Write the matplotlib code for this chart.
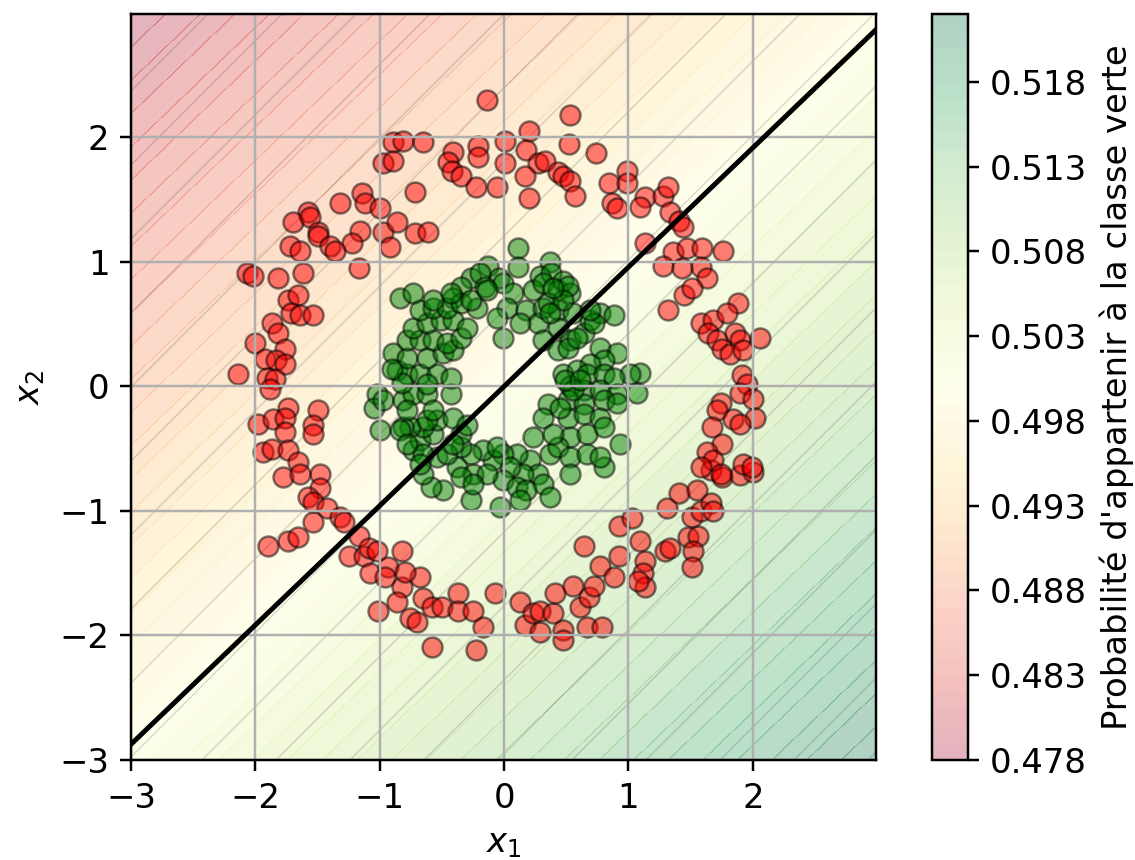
import numpy as np
import matplotlib
matplotlib.use("Agg")
import matplotlib.pyplot as plt

# ---------------- data ----------------
red_points = [
    (-0.14, 2.30), (0.53, 2.18), (0.20, 2.05), (0.52, 1.95), (0.01, 1.97), (0.18, 1.90),
    (0.01, 1.79), (0.27, 1.79), (0.33, 1.81), (0.43, 1.72), (0.47, 1.69), (0.53, 1.65),
    (0.57, 1.53), (0.20, 1.51), (0.17, 1.69), (0.74, 1.87), (0.99, 1.73), (0.84, 1.63),
    (0.99, 1.63), (0.87, 1.47), (0.91, 1.43), (1.13, 1.52), (1.09, 1.44), (1.28, 1.53),
    (1.32, 1.60), (1.33, 1.40), (1.41, 1.33), (1.44, 1.28), (1.13, 1.15), (1.36, 1.08),
    (1.47, 1.11), (1.59, 1.11), (1.76, 1.09), (1.28, 0.97), (1.43, 0.95), (1.58, 0.96),
    (1.63, 0.87),
    (-0.89, 1.96), (-0.81, 1.97), (-0.65, 1.96), (-0.97, 1.79), (-0.89, 1.81), (-0.41, 1.88),
    (-0.45, 1.80), (-0.42, 1.73), (-0.35, 1.69), (-0.21, 1.93), (-0.21, 1.84), (-0.23, 1.60),
    (-0.06, 1.60), (-0.72, 1.56), (-1.14, 1.55), (-1.12, 1.47), (-1.32, 1.47), (-1.00, 1.43),
    (-1.58, 1.40), (-1.70, 1.32), (-1.56, 1.36), (-1.50, 1.24), (-1.50, 1.21), (-1.16, 1.25),
    (-1.22, 1.15), (-0.97, 1.24), (-0.86, 1.32), (-0.72, 1.23), (-0.61, 1.24), (-0.92, 1.12),
    (-1.40, 1.13), (-1.36, 1.09), (-1.72, 1.13), (-1.64, 1.09), (-1.17, 0.95), (-2.07, 0.91),
    (-2.02, 0.89), (-1.82, 0.87), (-1.62, 0.91),
    (-1.74, 0.69), (-1.66, 0.73), (-1.71, 0.59), (-1.64, 0.57), (-1.54, 0.57), (-1.87, 0.51),
    (-1.82, 0.43), (-2.00, 0.35), (-1.76, 0.30), (-1.92, 0.22), (-1.83, 0.21), (-1.76, 0.18),
    (-2.14, 0.10), (-1.91, 0.07), (-1.84, 0.06), (-1.88, -0.02), (-1.74, -0.17), (-1.50, -0.19),
    (-1.98, -0.30), (-1.86, -0.26), (-1.76, -0.25), (-1.76, -0.37), (-1.54, -0.31), (-1.54, -0.38),
    (-1.94, -0.53), (-1.87, -0.50), (-1.74, -0.51), (-1.66, -0.61), (-1.78, -0.73), (-1.48, -0.70),
    (-1.64, -0.70), (-1.48, -0.82), (-1.58, -0.89), (-1.54, -0.93), (-1.42, -0.98), (-1.32, -1.05),
    (-1.29, -1.09), (-1.54, -1.09), (-1.90, -1.28), (-1.74, -1.24), (-1.66, -1.21), (-1.17, -1.20),
    (-1.25, -1.36), (-1.13, -1.36), (-1.09, -1.30), (-1.02, -1.32), (-0.82, -1.32), (-1.08, -1.50),
    (-0.93, -1.45), (-0.96, -1.53), (-0.82, -1.61), (-0.68, -1.53), (-0.80, -1.49), (-1.01, -1.80),
    (-0.86, -1.73), (-0.76, -1.86), (-0.70, -1.89), (-0.65, -1.70), (-0.58, -1.77), (-0.50, -1.77),
    (-0.37, -1.66), (-0.37, -1.80), (-0.25, -1.80), (-0.17, -1.93), (-0.07, -1.66), (-0.58, -2.09),
    (-0.23, -2.12),
    (0.13, -1.73), (0.17, -1.92), (0.23, -1.82), (0.29, -1.80), (0.29, -1.97), (0.39, -1.82),
    (0.47, -1.96), (0.47, -2.04), (0.41, -1.66), (0.55, -1.60), (0.61, -1.77), (0.68, -1.69),
    (0.72, -1.60), (0.64, -1.28), (0.77, -1.44), (0.88, -1.53), (0.92, -1.36), (0.67, -1.93),
    (0.79, -1.93), (0.92, -1.12), (1.03, -1.06), (1.09, -1.24), (1.13, -1.40), (1.12, -1.50),
    (1.13, -1.61), (1.08, -1.56), (1.29, -1.32), (1.33, -1.30), (1.31, -0.98), (1.41, -0.86),
    (1.55, -0.83), (1.51, -1.05), (1.58, -1.00), (1.66, -0.94), (1.68, -1.00), (1.48, -1.21),
    (1.56, -1.20), (1.52, -1.32), (1.51, -1.45), (1.66, -0.67), (1.75, -0.73), (1.90, -0.71),
    (2.00, -0.69),
    (1.45, 0.73), (1.51, 0.79), (1.32, 0.61), (1.88, 0.67), (1.58, 0.51), (1.68, 0.53),
    (1.79, 0.59), (1.64, 0.43), (1.71, 0.37), (1.86, 0.43), (1.90, 0.37), (2.06, 0.39),
    (1.75, 0.30), (1.82, 0.26), (1.92, 0.29), (1.91, 0.09), (1.95, 0.02), (1.90, -0.05),
    (2.00, -0.10), (1.74, -0.13), (1.71, -0.19), (2.02, -0.25), (1.84, -0.26), (1.90, -0.30),
    (1.67, -0.33), (1.75, -0.46), (1.63, -0.53), (1.68, -0.59), (1.58, -0.65), (1.92, -0.62),
    (1.99, -0.65), (1.74, -0.70),
]

green_points = [
    (0.11, 1.11), (0.11, 0.96), (-0.13, 0.97), (0.37, 1.00), (-0.04, 0.87), (0.29, 0.89),
    (0.38, 0.91), (-0.27, 0.87), (-0.19, 0.91), (-0.35, 0.80), (-0.41, 0.71), (-0.15, 0.80),
    (-0.01, 0.83), (0.07, 0.75), (0.02, 0.63), (-0.06, 0.55), (-0.01, 0.39), (0.18, 0.61),
    (0.23, 0.77), (0.31, 0.83), (0.27, 0.51), (0.31, 0.63), (0.43, 0.77), (0.47, 0.85),
    (0.53, 0.75), (0.43, 0.61), (0.55, 0.59), (0.43, 0.47), (0.31, 0.37), (0.43, 0.29),
    (0.53, 0.37), (0.64, 0.43), (0.69, 0.53), (0.77, 0.59), (0.88, 0.57), (0.77, 0.31),
    (0.91, 0.27), (0.80, 0.21), (0.69, 0.18), (1.09, 0.11), (1.01, 0.10), (0.47, 0.10),
    (0.59, 0.13), (0.67, 0.10), (0.80, 0.10), (0.88, 0.07), (0.53, 0.00), (0.64, -0.03),
    (0.77, -0.03), (0.91, -0.06), (1.07, -0.05), (0.51, -0.11), (0.64, -0.14), (0.80, -0.11),
    (0.91, -0.13), (0.35, -0.14), (0.31, -0.25), (0.51, -0.25), (0.64, -0.22), (0.77, -0.25),
    (0.53, -0.41), (0.67, -0.38), (0.80, -0.33), (0.93, -0.46), (0.23, -0.41), (0.37, -0.54),
    (0.43, -0.49), (0.53, -0.57), (0.67, -0.54), (0.80, -0.65), (0.53, -0.70), (0.21, -0.59),
    (0.10, -0.54), (-0.01, -0.54), (0.27, -0.70), (0.31, -0.78), (0.37, -0.89), (0.15, -0.70),
    (0.05, -0.65), (-0.01, -0.75), (0.10, -0.81), (0.18, -0.83), (-0.03, -0.97), (-0.27, -0.91),
    (-0.09, -0.59), (-0.17, -0.51), (-0.27, -0.54), (-0.35, -0.49), (-0.38, -0.65), (-0.25, -0.70),
    (-0.14, -0.70), (-0.49, -0.83), (-0.59, -0.81), (-0.65, -0.70), (-0.54, -0.57), (-0.46, -0.54),
    (-0.35, -0.38), (-0.73, -0.51), (-0.68, -0.43), (-0.57, -0.38), (-0.54, -0.27), (-0.65, -0.33),
    (-0.76, -0.33), (-0.81, -0.33), (-1.00, -0.35), (-0.84, -0.35), (-1.02, -0.06), (-1.05, -0.17),
    (-0.97, -0.11), (-0.81, -0.11), (-0.73, -0.06), (-0.62, -0.06), (-0.43, -0.06), (-0.86, 0.13),
    (-0.78, 0.10), (-0.68, 0.10), (-0.54, 0.10), (-0.43, 0.07), (-0.89, 0.27), (-0.78, 0.23),
    (-0.62, 0.23), (-0.49, 0.27), (-0.41, 0.29), (-0.78, 0.37), (-0.68, 0.37), (-0.57, 0.37),
    (-0.46, 0.35), (-0.35, 0.39), (-0.73, 0.47), (-0.62, 0.51), (-0.51, 0.53), (-0.41, 0.53),
    (-0.30, 0.47), (-0.68, 0.61), (-0.57, 0.63), (-0.46, 0.63), (-0.35, 0.67), (-0.22, 0.63),
    (-0.84, 0.71), (-0.73, 0.75), (-0.57, 0.69), (-0.43, 0.75), (-0.27, 0.69), (-0.14, 0.77),
    (0.51, 0.81), (0.13, 0.51), (0.35, 0.67), (0.47, 0.69), (0.37, 0.59), (0.39, 0.79),
    (0.51, 0.31), (0.59, 0.39), (0.72, 0.51), (0.69, 0.61), (0.55, -0.03), (0.49, 0.05),
    (0.61, 0.05), (0.45, -0.17), (0.39, -0.38), (0.77, -0.57), (-0.06, -0.49), (-0.41, -0.46),
    (-0.65, -0.54), (-0.62, -0.27), (-0.78, -0.46), (-0.68, -0.62), (-0.78, -0.19), (-0.57, -0.19),
    (-0.41, -0.25), (-0.30, -0.31), (-0.82, 0.03), (-0.62, 0.02), (-0.35, -0.73), (-0.25, -0.78),
    (0.13, -0.91), (-0.90, 0.14),
]

# logistic regression model (read from the background / decision line)
coef_x1 = 0.014385
coef_x2 = -0.015015
intercept = 0.0

grid_min, grid_max, grid_step = -3.0, 3.0, 0.01
levels = np.linspace(0.478, 0.522, 45)
cbar_ticks = [0.478, 0.483, 0.488, 0.493, 0.498, 0.503, 0.508, 0.513, 0.518]

# ---------------- figure ----------------
DPI = 222
fig = plt.figure(figsize=(1135 / DPI, 860 / DPI), dpi=DPI)
plt.rcParams['font.size'] = 11
plt.rcParams['hatch.linewidth'] = 0.5
plt.rcParams['hatch.color'] = (0.0, 0.0, 0.0, 0.14)

ax = fig.add_axes([0.1154, 0.1163, 0.6564, 0.8674])
cax = fig.add_axes([0.8211, 0.1163, 0.0317, 0.8674])

g = np.arange(grid_min, grid_max, grid_step)
xx, yy = np.meshgrid(g, g)
Z = 1.0 / (1.0 + np.exp(-(coef_x1 * xx + coef_x2 * yy + intercept)))

cf = ax.contourf(xx, yy, Z, levels=levels, cmap='RdYlGn', alpha=0.3, zorder=0)
ax.contourf(xx, yy, Z, levels=levels, colors='none', hatches=['/'], zorder=0.1)

red = np.array(red_points)
green = np.array(green_points)
ax.scatter(red[:, 0], red[:, 1], s=42, c='red', alpha=0.5, edgecolors='k', linewidths=0.8, zorder=1)
ax.scatter(green[:, 0], green[:, 1], s=42, c='green', alpha=0.5, edgecolors='k', linewidths=0.8, zorder=1)

line_x = np.array([g[0], g[-1]])
line_y = -(coef_x1 * line_x + intercept) / coef_x2
ax.plot(line_x, line_y, color='k', lw=1.6, zorder=3)

ax.set_xlim(g[0], g[-1])
ax.set_ylim(g[0], g[-1])
ax.set_xticks([-3, -2, -1, 0, 1, 2])
ax.set_yticks([-3, -2, -1, 0, 1, 2])
ax.grid(True)
ax.set_xlabel('$x_1$')
ax.set_ylabel('$x_2$')

cb = fig.colorbar(cf, cax=cax, ticks=cbar_ticks)
cb.ax.set_yticklabels([f'{t:.3f}' for t in cbar_ticks])
cb.set_label("Probabilité d'appartenir à la classe verte")

fig.savefig('out.png', dpi=DPI)
